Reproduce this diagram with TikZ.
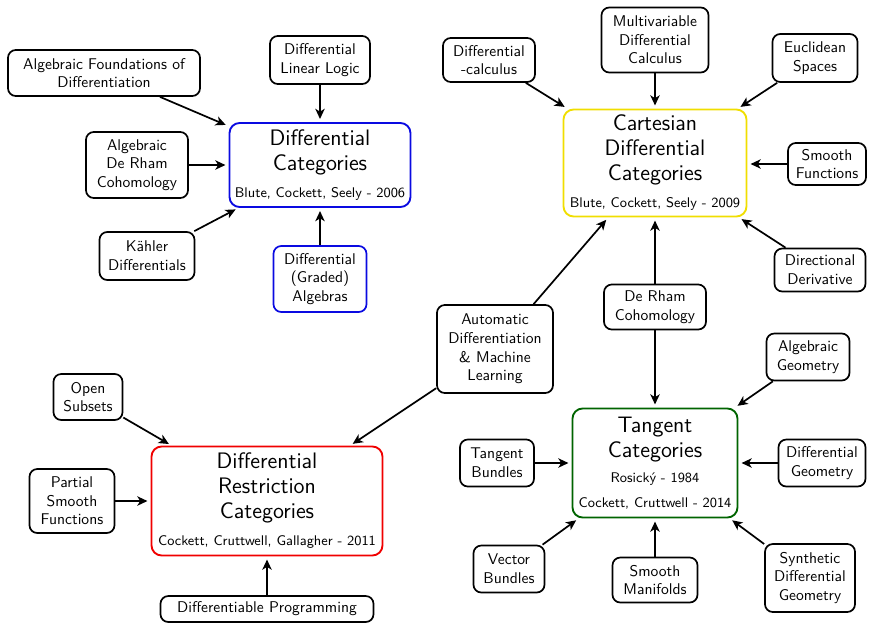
\documentclass[tikz,border=0pt]{standalone}
\usepackage{fontspec}
\usetikzlibrary{arrows.meta}
\def\u{0.643pt}
\definecolor{dcblue}{RGB}{10,10,225}
\definecolor{cdcyellow}{RGB}{240,222,0}
\definecolor{drcred}{RGB}{240,0,0}
\definecolor{tcgreen}{RGB}{0,100,0}
\tikzset{
  box/.style={draw, rounded corners=5pt, line width=1.1pt, align=center, font=\sffamily, inner sep=2pt},
  mainbox/.style={draw, rounded corners=6.5pt, line width=1.2pt, align=center, font=\sffamily\fontsize{14.4}{16}\selectfont, inner sep=2pt},
  arr/.style={-{Stealth[length=6.5pt,width=6pt,inset=1.8pt]}, line width=1.1pt, shorten >=2pt},
  sz/.style 2 args={minimum width=#1*\u, minimum height=#2*\u}
}
\begin{document}
\begin{tikzpicture}[x=0.643pt,y=-0.643pt]
\useasboundingbox (0,0) rectangle (870,623);
% Differential Categories cluster
\node[mainbox, draw=dcblue, sz={181}{84}] (dc) at (320,165) {Differential\\Categories\\[1.5pt]{\small Blute, Cockett, Seely - 2006}};
\node[box, sz={192}{46}] (n1) at (104,73) {Algebraic Foundations of\\Differentiation};
\node[box, sz={100}{48}] (n2) at (320,60) {Differential\\Linear Logic};
\node[box, sz={102}{66}] (n3) at (137,165) {Algebraic\\De Rham\\Cohomology};
\node[box, sz={95}{48}] (n4) at (147,256) {Kähler\\Differentials};
\node[box, draw=dcblue, sz={93}{66}] (n5) at (320,279) {Differential\\(Graded)\\Algebras};
% Cartesian Differential Categories cluster
\node[mainbox, draw=cdcyellow, sz={183}{107}] (cdc) at (655,163) {Cartesian\\Differential\\Categories\\[1.5pt]{\small Blute, Cockett, Seely - 2009}};
\node[box, sz={92}{44}] (n7) at (489,60) {Differential\\-calculus};
\node[box, sz={107}{65}] (n8) at (655,40) {Multivariable\\Differential\\Calculus};
\node[box, sz={85}{48}] (n9) at (815,58) {Euclidean\\Spaces};
\node[box, sz={78}{42}] (n10) at (827,164) {Smooth\\Functions};
\node[box, sz={91}{43}] (n11) at (820,270) {Directional\\Derivative};
\node[box, sz={102}{45}] (n13) at (655,307) {De Rham\\Cohomology};
\node[box, sz={116}{88}] (n14) at (495,349) {Automatic\\Differentiation\\\& Machine\\Learning};
% Tangent Categories cluster
\node[mainbox, draw=tcgreen, sz={165}{109}] (tc) at (655,463) {Tangent\\Categories\\{\small Rosický - 1984}\\{\small Cockett, Cruttwell - 2014}};
\node[box, sz={83}{47}] (n15) at (808,357) {Algebraic\\Geometry};
\node[box, sz={74}{47}] (n17) at (497,463) {Tangent\\Bundles};
\node[box, sz={87}{47}] (n18) at (822,463) {Differential\\Geometry};
\node[box, sz={71}{47}] (n19) at (509,569) {Vector\\Bundles};
\node[box, sz={85}{45}] (n20) at (655,580) {Smooth\\Manifolds};
\node[box, sz={90}{68}] (n21) at (810,578) {Synthetic\\Differential\\Geometry};
% Differential Restriction Categories cluster
\node[mainbox, draw=drcred, sz={231}{109}] (drc) at (267,501) {Differential\\Restriction\\Categories\\[1.5pt]{\small Cockett, Cruttwell, Gallagher - 2011}};
\node[box, sz={69}{46}] (n22) at (88,397) {Open\\Subsets};
\node[box, sz={85}{64}] (n23) at (72,501) {Partial\\Smooth\\Functions};
\node[box, sz={213}{26}] (n25) at (267,609) {Differentiable Programming};
% arrows
\draw[arr] (n1) -- (dc);
\draw[arr] (n2) -- (dc);
\draw[arr] (n3) -- (dc);
\draw[arr] (n4) -- (dc);
\draw[arr] (n5) -- (dc);
\draw[arr] (n7) -- (cdc);
\draw[arr] (n8) -- (cdc);
\draw[arr] (n9) -- (cdc);
\draw[arr] (n10.west) -- (n10.west -| cdc.east);
\draw[arr] (n11) -- (cdc);
\draw[arr] (n13) -- (cdc);
\draw[arr] (n13) -- (tc);
\draw[arr] (n14) -- (cdc);
\draw[arr] (n14) -- (drc);
\draw[arr] (n15) -- (tc);
\draw[arr] (n17) -- (tc);
\draw[arr] (n18) -- (tc);
\draw[arr] (n19) -- (tc);
\draw[arr] (n20) -- (tc);
\draw[arr] (n21) -- (tc);
\draw[arr] (n22) -- (drc);
\draw[arr] (n23) -- (drc);
\draw[arr] (n25) -- (drc);
\end{tikzpicture}
\end{document}
